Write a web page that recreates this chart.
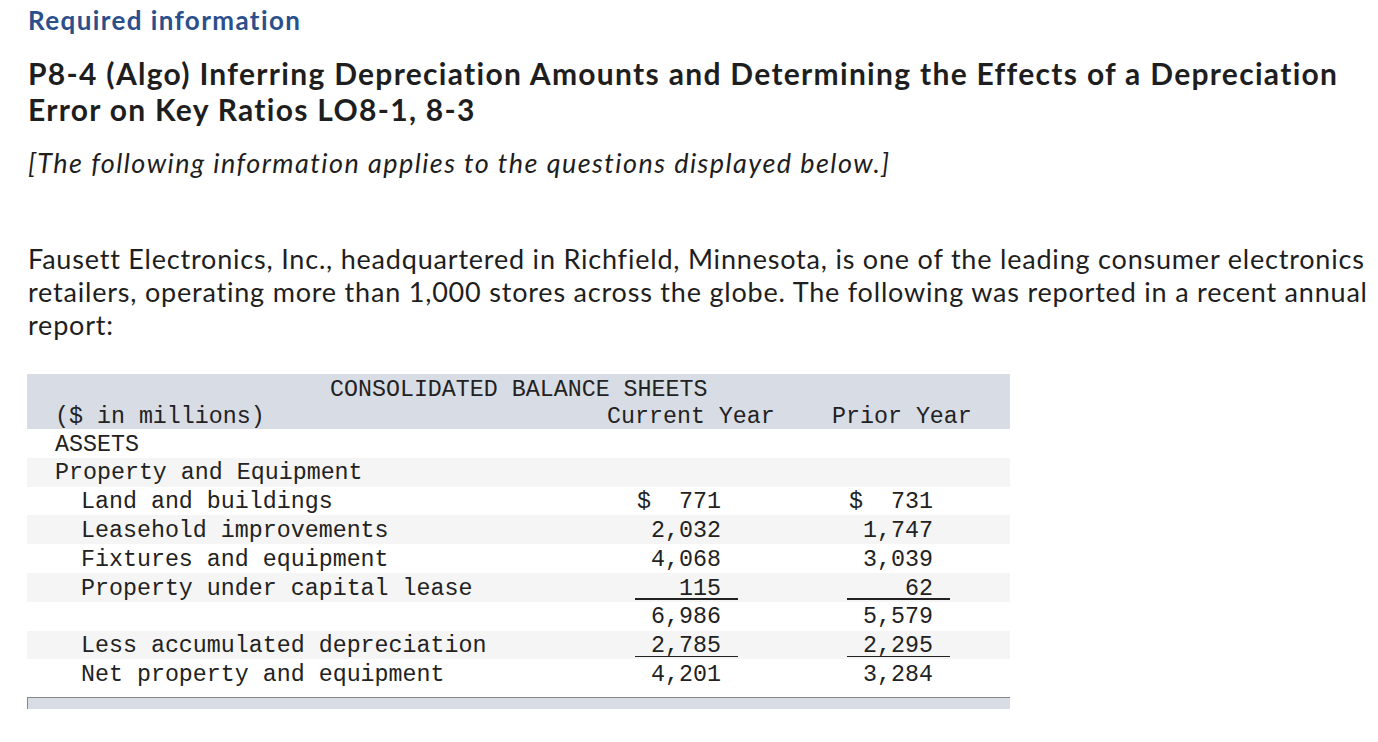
<!DOCTYPE html>
<html>
<head>
<meta charset="utf-8">
<script src="https://cdn.jsdelivr.net/npm/chart.js@4/dist/chart.umd.min.js"></script>
<style>
  html, body { margin:0; padding:0; background:#fff; width:1378px; height:742px; overflow:hidden; }
  .t { position:absolute; left:28px; white-space:nowrap; font-family:Lato, "Open Sans", sans-serif; color:#1e1e1e; line-height:1.2; }
  .mono { position:absolute; white-space:pre; font-family:"Liberation Mono","DejaVu Sans Mono",monospace; font-size:23.3px; color:#222; line-height:28px; }
  .band { position:absolute; left:27px; width:983px; }
</style>
</head>
<body>
<div class="t" style="top:5px;font-size:26px;font-weight:700;color:#2b4f8c;letter-spacing:1.4px;">Required information</div>
<div class="t" style="top:55px;font-size:30px;font-weight:700;line-height:36px;letter-spacing:1.3px;">P8-4 (Algo) Inferring Depreciation Amounts and Determining the Effects of a Depreciation<br>Error on Key Ratios LO8-1, 8-3</div>
<div class="t" style="top:147px;font-size:27px;font-style:italic;letter-spacing:1.45px;">[The following information applies to the questions displayed below.]</div>
<div class="t" style="top:242px;font-size:27px;line-height:33px;letter-spacing:0.8px;">Fausett Electronics, Inc., headquartered in Richfield, Minnesota, is one of the leading consumer electronics<br>retailers, operating more than 1,000 stores across the globe. The following was reported in a recent annual<br>report:</div>
<div id="table"></div>
<script>
// ---- data ----
const tableTitle = "CONSOLIDATED BALANCE SHEETS";
const unitLabel = "($ in millions)";
const columnHeaders = ["Current Year", "Prior Year"];
const rowLabels = ["ASSETS", "Property and Equipment", "Land and buildings", "Leasehold improvements",
  "Fixtures and equipment", "Property under capital lease", "", "Less accumulated depreciation", "Net property and equipment"];
const rowIndent = [0, 0, 1, 1, 1, 1, 1, 1, 1];
const currentYear = [null, null, 771, 2032, 4068, 115, 6986, 2785, 4201];
const priorYear   = [null, null, 731, 1747, 3039, 62, 5579, 2295, 3284];
const dollarRows = [2];
const underlineRows = [5, 7];

const root = document.getElementById('table');
function add(cls, style, text) {
  const d = document.createElement('div');
  d.className = cls; d.style.cssText = style; if (text !== undefined) d.textContent = text;
  root.appendChild(d); return d;
}
// header band
add('band', 'top:374px;height:55px;background:#d8dce5;');
add('mono', 'left:330px;top:376px;', tableTitle);
add('mono', 'left:55px;top:403px;', unitLabel);
add('mono', 'left:607px;top:403px;', columnHeaders[0]);
add('mono', 'left:832px;top:403px;', columnHeaders[1]);

const rowTop = 429, rowH = 28.8;
const fmt = v => v.toLocaleString('en-US');
rowLabels.forEach((lab, i) => {
  const top = rowTop + i * rowH;
  if (i % 2 === 1) add('band', `top:${top}px;height:${rowH}px;background:#f5f5f5;`);
  add('mono', `left:${55 + rowIndent[i]*26}px;top:${top+1.5}px;`, lab);
  [[currentYear, 721, 738], [priorYear, 933, 950]].forEach(([arr, right, ulRight]) => {
    const v = arr[i];
    if (v === null) return;
    let s = fmt(v);
    if (dollarRows.includes(i)) s = "$" + " ".repeat(Math.max(1, 5 - s.length)) + s;
    add('mono', `top:${top+1.5}px;width:200px;left:${right-200}px;text-align:right;`, s);
    if (underlineRows.includes(i)) add('band', `left:${ulRight-103}px;width:103px;top:${top+rowH-3.5}px;height:1.5px;background:#222;`);
  });
});
// bottom band
add('band', 'top:697px;height:12px;background:#d8dce5;border-top:1.5px solid #888;box-sizing:border-box;border-left:1.5px solid #888;');
</script>
</body>
</html>
